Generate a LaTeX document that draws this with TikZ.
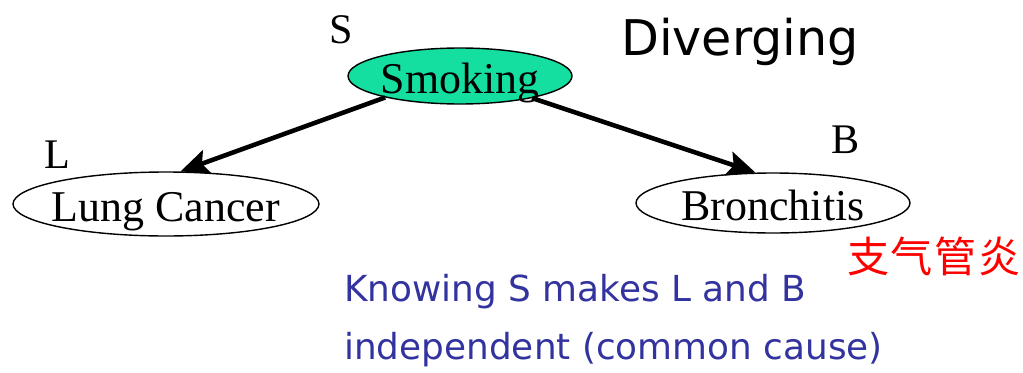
\documentclass[tikz,border=0pt]{standalone}
\usepackage{fontspec}
\setmainfont{Liberation Serif}
\newfontfamily\slidefont{DejaVu Sans}
\newfontfamily\cjkfont{Noto Sans CJK SC}
\usetikzlibrary{shapes.geometric,arrows.meta}
\definecolor{smokegreen}{RGB}{20,222,160}
\definecolor{noteblue}{RGB}{51,51,160}
\tikzset{
	varnode/.style={ellipse, draw=black, line width=0.8pt, inner xsep=-12pt, inner ysep=-4pt,
		text height=20pt, text depth=0pt, font=\fontsize{25}{28}\selectfont},
	varlbl/.style={black, font=\fontsize{24}{28}\selectfont},
	cause/.style={line width=2.6pt, -{Stealth[length=16pt,width=14pt,inset=3pt]}},
	note/.style={noteblue, anchor=west, font=\slidefont\fontsize{20.4}{24}\selectfont}
}
\begin{document}
\begin{tikzpicture}[x=0.02cm, y=-0.02cm]
		\useasboundingbox (0,0) rectangle (1023,372);
		
		% variables
		\node[varnode, fill=smokegreen, minimum width=4.48cm, minimum height=1.12cm] (smoke) at (460,76) {Smoking};
		\node[varnode, minimum width=6.12cm, minimum height=1.28cm] (lung) at (166,204) {Lung Cancer};
		\node[varnode, minimum width=5.48cm, minimum height=1.2cm] (bron) at (773,203) {Bronchitis};
		
		\node[varlbl] (lblS) at (341,30) {S};
		\node[varlbl] (lblL) at (57,155) {L};
		\node[varlbl] (lblB) at (846,140) {B};
		
		% edges
		\draw[cause] (smoke.196) -- (lung.66);
		\draw[cause] (smoke.343) -- (bron.120);
		
		\node[font=\slidefont\fontsize{28}{32}\selectfont] (title) at (740,42) {Diverging};
		\node[red, font=\cjkfont\fontsize{24}{28}\selectfont] (cn) at (934,256) {支\kern1pt 气\kern1pt 管\kern1pt 炎};
		
		\node[note] (note1) at (338,292) {Knowing S makes L and B};
		\node[note] (note2) at (338,350) {independent (common cause)};
	\end{tikzpicture}
\end{document}
